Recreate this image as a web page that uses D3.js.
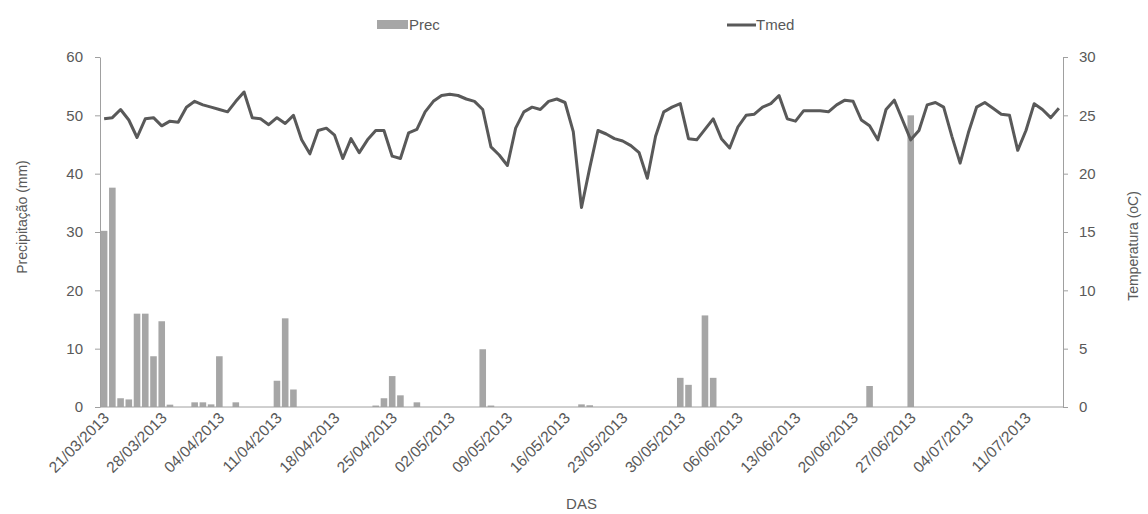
<!DOCTYPE html>
<html>
<head>
<meta charset="utf-8">
<script src="https://cdn.jsdelivr.net/npm/d3@7"></script>
<style>
  body { margin: 0; background: #fff; }
  svg text { font-family: "Liberation Sans", Arial, sans-serif; fill: #595959; }
</style>
</head>
<body>
<div id="chart"></div>
<script>
// ------------------------------------------------------------
// Data
// ------------------------------------------------------------
const startDate = "2013-03-21";
const endDate = "2013-07-15";

const tickLabels = ["21/03/2013", "28/03/2013", "04/04/2013", "11/04/2013", "18/04/2013",
  "25/04/2013", "02/05/2013", "09/05/2013", "16/05/2013", "23/05/2013", "30/05/2013",
  "06/06/2013", "13/06/2013", "20/06/2013", "27/06/2013", "04/07/2013", "11/07/2013"];

// daily precipitation (mm), one value per day
const prec = [
  30.2, 37.6, 1.5, 1.3, 16.0, 16.0, 8.7, 14.7, 0.4, 0, 0, 0.8, 0.8, 0.45, 8.7, 0, 0.8, 0, 0, 0,
  0, 4.5, 15.2, 3.0, 0, 0, 0, 0, 0, 0, 0, 0, 0, 0.25, 1.5, 5.3, 2.0, 0, 0.8, 0,
  0, 0, 0, 0, 0, 0, 9.9, 0.25, 0, 0, 0, 0, 0, 0, 0, 0, 0, 0, 0.45, 0.3,
  0, 0, 0, 0, 0, 0, 0, 0, 0, 0, 5.0, 3.8, 0, 15.7, 5.0, 0, 0, 0, 0, 0,
  0, 0, 0, 0, 0, 0, 0, 0, 0, 0, 0, 0, 0, 3.6, 0, 0, 0, 0, 50.0, 0,
  0, 0, 0, 0, 0, 0, 0, 0, 0, 0, 0, 0, 0, 0, 0, 0, 0
];

// daily mean temperature (oC)
const tmed = [
  24.7, 24.8, 25.5, 24.6, 23.1, 24.7, 24.8, 24.1, 24.5, 24.4,
  25.7, 26.2, 25.9, 25.7, 25.5, 25.3, 26.2, 27.0, 24.8, 24.7,
  24.2, 24.8, 24.3, 25.0, 22.9, 21.7, 23.7, 23.9, 23.3, 21.3,
  23.0, 21.8, 22.9, 23.7, 23.7, 21.5, 21.3, 23.5, 23.8, 25.3,
  26.2, 26.7, 26.8, 26.7, 26.4, 26.2, 25.5, 22.3, 21.6, 20.7,
  23.9, 25.3, 25.7, 25.5, 26.2, 26.4, 26.1, 23.6, 17.1, 20.5,
  23.7, 23.4, 23.0, 22.8, 22.4, 21.8, 19.6, 23.2, 25.3, 25.7,
  26.0, 23.0, 22.9, 23.8, 24.7, 23.0, 22.2, 24.0, 25.0, 25.1,
  25.7, 26.0, 26.7, 24.7, 24.5, 25.4, 25.4, 25.4, 25.3, 25.9,
  26.3, 26.2, 24.6, 24.1, 22.9, 25.5, 26.3, 24.6, 22.9, 23.7,
  25.9, 26.1, 25.7, 23.2, 20.9, 23.5, 25.7, 26.1, 25.6, 25.1,
  25.0, 22.0, 23.7, 26.0, 25.5, 24.8, 25.6
];

// ------------------------------------------------------------
// Chart setup
// ------------------------------------------------------------
const width = 1148, height = 514;
const margin = { top: 57, right: 85, bottom: 107, left: 100 };
const axisColor = "#a0a0a0";

const parseIso = d3.timeParse("%Y-%m-%d");
const parseLabel = d3.timeParse("%d/%m/%Y");
const fmtKey = d3.timeFormat("%d/%m/%Y");

const days = d3.timeDay.range(parseIso(startDate), d3.timeDay.offset(parseIso(endDate), 1));
const keys = days.map(fmtKey);

const data = keys.map((k, i) => ({ key: k, prec: prec[i], tmed: tmed[i] }));

const svg = d3.select("#chart").append("svg")
  .attr("width", width)
  .attr("height", height);

const x = d3.scaleBand()
  .domain(keys)
  .range([margin.left, width - margin.right])
  .paddingInner(0.2)
  .paddingOuter(0.1);

const yPrec = d3.scaleLinear()
  .domain([0, 60])
  .range([height - margin.bottom, margin.top]);

const yTemp = d3.scaleLinear()
  .domain([0, 30])
  .range([height - margin.bottom, margin.top]);

// Bars
svg.append("g")
  .selectAll("rect")
  .data(data.filter(d => d.prec > 0))
  .join("rect")
  .attr("x", d => x(d.key))
  .attr("y", d => yPrec(d.prec))
  .attr("width", x.bandwidth())
  .attr("height", d => yPrec(0) - yPrec(d.prec))
  .attr("fill", "#a6a6a6");

// Left axis
const leftAxis = svg.append("g")
  .attr("transform", `translate(${margin.left},0)`)
  .call(d3.axisLeft(yPrec).tickValues(d3.range(0, 61, 10)).tickSize(5).tickPadding(12).tickSizeOuter(0));

// Right axis
const rightAxis = svg.append("g")
  .attr("transform", `translate(${width - margin.right},0)`)
  .call(d3.axisRight(yTemp).tickValues(d3.range(0, 31, 5)).tickSize(5).tickPadding(11).tickSizeOuter(0));

[leftAxis, rightAxis].forEach(g => {
  g.select(".domain").attr("stroke", axisColor);
  g.selectAll(".tick line").attr("stroke", axisColor);
  g.selectAll(".tick text")
    .attr("fill", "#595959")
    .style("font-size", "15px");
});

// Bottom axis line
svg.append("line")
  .attr("x1", margin.left)
  .attr("x2", width - margin.right)
  .attr("y1", yPrec(0))
  .attr("y2", yPrec(0))
  .attr("stroke", axisColor);

// Date labels (rotated)
svg.append("g")
  .selectAll("text")
  .data(tickLabels)
  .join("text")
  .attr("transform", d => {
    const k = fmtKey(parseLabel(d));
    const cx = x(k) + x.bandwidth() / 2 + 6;
    return `translate(${cx},${yPrec(0) + 12}) rotate(-45)`;
  })
  .attr("text-anchor", "end")
  .style("font-size", "15.5px")
  .text(d => d);

// Temperature line
const line = d3.line()
  .x(d => x(d.key) + x.bandwidth() / 2)
  .y(d => yTemp(d.tmed));

svg.append("path")
  .datum(data)
  .attr("fill", "none")
  .attr("stroke", "#595959")
  .attr("stroke-width", 3)
  .attr("stroke-linejoin", "round")
  .attr("d", line);

// Axis titles
svg.append("text")
  .attr("transform", `translate(22,217) rotate(-90)`)
  .attr("text-anchor", "middle")
  .attr("dy", "0.35em")
  .style("font-size", "14px")
  .text("Precipitação (mm)");

svg.append("text")
  .attr("transform", `translate(1133,246) rotate(-90)`)
  .attr("text-anchor", "middle")
  .attr("dy", "0.35em")
  .style("font-size", "14px")
  .text("Temperatura (oC)");

svg.append("text")
  .attr("x", (margin.left + width - margin.right) / 2)
  .attr("y", 509)
  .attr("text-anchor", "middle")
  .style("font-size", "15px")
  .text("DAS");

// Legend
const legend = svg.append("g");
legend.append("rect")
  .attr("x", 377).attr("y", 20)
  .attr("width", 31).attr("height", 9)
  .attr("fill", "#a6a6a6");
legend.append("text")
  .attr("x", 409).attr("y", 30)
  .style("font-size", "15px")
  .text("Prec");
legend.append("line")
  .attr("x1", 727).attr("x2", 756)
  .attr("y1", 25).attr("y2", 25)
  .attr("stroke", "#595959")
  .attr("stroke-width", 3);
legend.append("text")
  .attr("x", 756).attr("y", 30)
  .style("font-size", "15px")
  .text("Tmed");
</script>
</body>
</html>
